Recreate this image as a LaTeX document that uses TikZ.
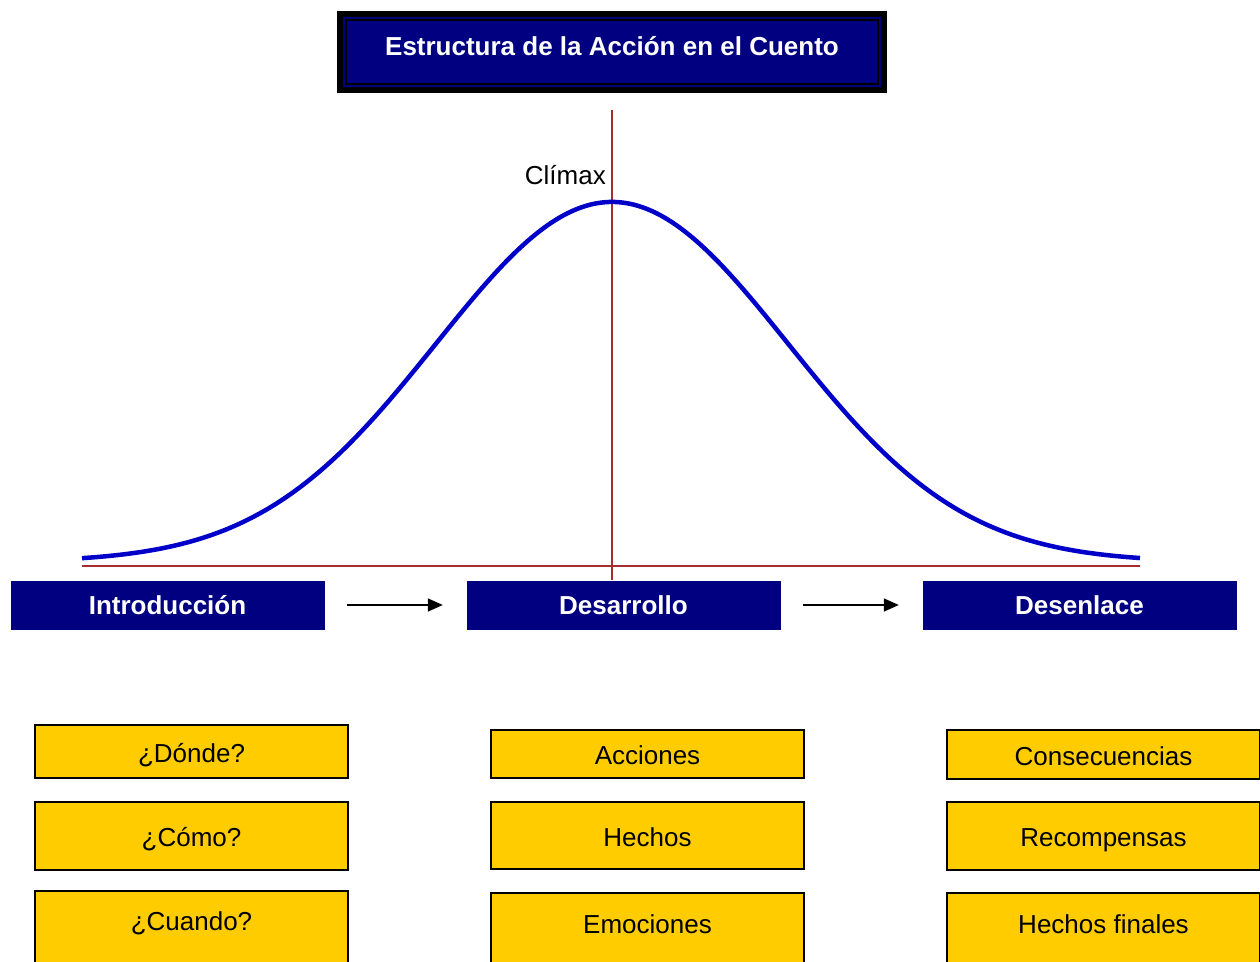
\documentclass[tikz,border=0pt]{standalone}
\usepackage{fontspec}
\setmainfont{Liberation Sans}
\usetikzlibrary{arrows.meta,calc,backgrounds}
\definecolor{NavyClr}{RGB}{0,0,128}
\definecolor{CurveClr}{RGB}{0,0,200}
\definecolor{AxisClr}{RGB}{165,45,45}
\definecolor{ItemClr}{RGB}{255,204,0}

\tikzset{
  stagebox/.style={fill=NavyClr,draw=NavyClr,text=white,font=\fontsize{26}{30}\selectfont\bfseries,
    minimum width=313pt,minimum height=48pt,inner sep=0pt},
  itembox/.style={fill=ItemClr,draw=black,line width=1.6pt,font=\fontsize{26}{30}\selectfont,
    minimum width=313pt,inner sep=0pt,text height=22pt,text depth=1pt},
  flow/.style={line width=1.5pt,-{Triangle[length=15pt,width=13pt]},shorten <=23pt,shorten >=24pt}
}

\begin{document}
\begin{tikzpicture}[x=1pt,y=-1pt]
\useasboundingbox (0,0) rectangle (1260,961);
\clip (0,0) rectangle (1260,961);

% title
\node[fill=NavyClr,draw=black,line width=1.6pt,text=white,font=\fontsize{26}{30}\selectfont\bfseries,
  minimum width=532pt,minimum height=64pt,inner sep=0pt,text height=19pt,text depth=12pt] (title) at (612,52)
  {Estructura de la Acción en el Cuento};
\begin{scope}[on background layer]
\draw[fill=NavyClr,line width=6pt] ($(title.north west)+(-5,-5)$) rectangle ($(title.south east)+(5,5)$);
\end{scope}

% axes and curve
\draw[AxisClr,line width=2pt] (82,566) -- (1140,566);
\draw[AxisClr,line width=2pt] (612,110) -- (612,580);
\draw[CurveClr,line width=4.5pt] plot[domain=82:1140,samples=160,smooth]
  (\x,{562-360*exp(-0.5*((\x-612)/176)^2)});
\node[anchor=east,font=\fontsize{26}{30}\selectfont,inner sep=0pt] (climax) at (606,175) {Clímax};

% stages
\node[stagebox] (intro) at (167.5,605) {Introducción};
\node[stagebox] (desa) at (623.5,605) {Desarrollo};
\node[stagebox] (desen) at (1079.5,605) {Desenlace};
\draw[flow] (intro) -- (desa);
\draw[flow] (desa) -- (desen);

% items
\node[itembox,minimum height=53pt] (donde) at (191.5,751.5) {¿Dónde?};
\node[itembox,minimum height=68pt] (como) at (191.5,836) {¿Cómo?};
\node[itembox,anchor=north,text height=40pt,text depth=45pt] (cuando) at (191.5,890) {¿Cuando?};

\node[itembox,minimum height=48pt] (acc) at (647.5,754) {Acciones};
\node[itembox,minimum height=67pt] (hech) at (647.5,835.5) {Hechos};
\node[itembox,anchor=north,text height=41pt,text depth=45pt] (emoc) at (647.5,892) {Emociones};

\node[itembox,minimum height=49pt] (cons) at (1103.5,754.5) {Consecuencias};
\node[itembox,minimum height=68pt] (recom) at (1103.5,836) {Recompensas};
\node[itembox,anchor=north,text height=41pt,text depth=45pt] (finales) at (1103.5,892) {Hechos finales};
\end{tikzpicture}
\end{document}
